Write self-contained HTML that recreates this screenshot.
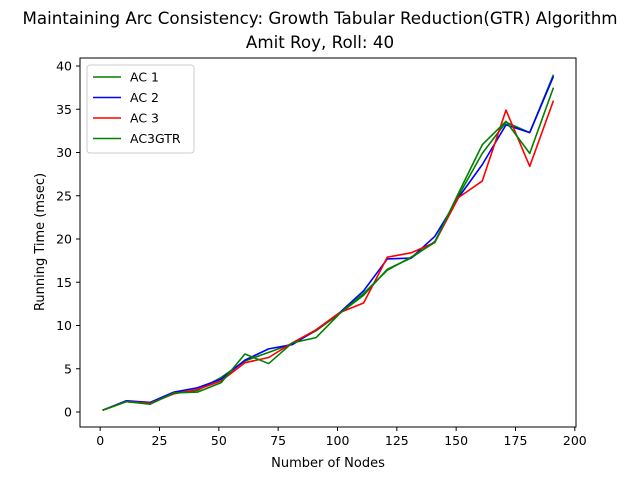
<!DOCTYPE html>
<html><head><meta charset="utf-8"><style>
body{margin:0;background:#fff}
svg{display:block;font-family:"DejaVu Sans","Liberation Sans",sans-serif}
</style></head><body>
<svg id="chart" width="640" height="480">
<rect width="640" height="480" fill="#fff"/>
<text x="320" y="24" font-size="16.7" text-anchor="middle">Maintaining Arc Consistency: Growth Tabular Reduction(GTR) Algorithm</text>
<text x="320" y="48" font-size="16.7" text-anchor="middle">Amit Roy, Roll: 40</text>
<g id="plot"></g>
<rect x="80" y="58" width="496" height="369" fill="none" stroke="#000" stroke-width="1"/>
<text x="328" y="467" font-size="13" text-anchor="middle">Number of Nodes</text>
<text x="0" y="0" font-size="13" text-anchor="middle" transform="translate(44,242) rotate(-90)">Running Time (msec)</text>
<g id="legend"></g>
</svg>
<script>
const xs=[1,11,21,31,41,51,61,71,81,91,101,111,121,131,141,151,161,171,181,191];
const ac1=[0.2,1.2,1.0,2.2,2.5,4.0,5.9,6.9,7.9,9.4,11.4,13.5,16.5,17.8,19.7,25.0,29.9,33.5,32.3,39.0];
const ac2=[0.2,1.3,1.1,2.3,2.8,3.8,6.0,7.3,7.8,9.5,11.5,14.0,17.7,17.8,20.3,24.8,28.6,33.2,32.3,38.8];
const ac3=[0.2,1.2,1.0,2.1,2.6,3.6,5.7,6.3,8.0,9.5,11.5,12.6,17.9,18.4,19.6,24.8,26.7,34.9,28.4,36.0];
const gtr=[0.2,1.2,0.9,2.2,2.3,3.4,6.7,5.6,8.0,8.6,11.4,13.7,16.4,17.9,19.6,25.3,30.9,33.6,29.9,37.5];
const xTicks=[0,25,50,75,100,125,150,175,200];
const yTicks=[0,5,10,15,20,25,30,35,40];
const seriesNames=["AC 1","AC 2","AC 3","AC3GTR"];
const ns="http://www.w3.org/2000/svg";
const X=v=>80+(v+8.5)*(496/209);
const Y=v=>412-v*8.65;
const plot=document.getElementById('plot');
const svg=document.getElementById('chart');
function mk(t,a,p){const e=document.createElementNS(ns,t);for(const k in a)e.setAttribute(k,a[k]);(p||svg).appendChild(e);return e;}
xTicks.forEach(t=>{
  const l=mk('line',{x1:X(t),x2:X(t),y1:427,y2:431,stroke:'#000'});
  
  
  const tx=mk('text',{x:X(t),y:445,'font-size':12.5,'text-anchor':'middle'});tx.textContent=t;
  
  
});
yTicks.forEach(t=>{
  const l=mk('line',{x1:76,x2:80,y1:Y(t),y2:Y(t),stroke:'#000'});
  
  
  const tx=mk('text',{x:72,y:Y(t)+4.5,'font-size':12.5,'text-anchor':'end'});tx.textContent=t;
  
  
});
const series=[ac1,ac2,ac3,gtr];
const colors=['#008000','#0000ff','#ff0000','#008000'];
series.forEach((s,i)=>{
  const p=mk('polyline',{points:s.map((v,j)=>X(xs[j])+','+Y(v)).join(' '),fill:'none',stroke:colors[i],'stroke-width':1.6,'stroke-linejoin':'round'},plot);
  
  
});
const lg=document.getElementById('legend');
const box=mk('rect',{x:87,y:65,width:107,height:88,rx:3,fill:'#fff','fill-opacity':0.8,stroke:'#ccc'},lg);


seriesNames.forEach((n,i)=>{
  const y=77+i*20.5;
  const l=mk('line',{x1:93,x2:121,y1:y,y2:y,stroke:colors[i],'stroke-width':1.6},lg);
  
  
  const t=mk('text',{x:130,y:y+4.5,'font-size':12.5},lg);t.textContent=n;
  
  
});
</script>
</body></html>
